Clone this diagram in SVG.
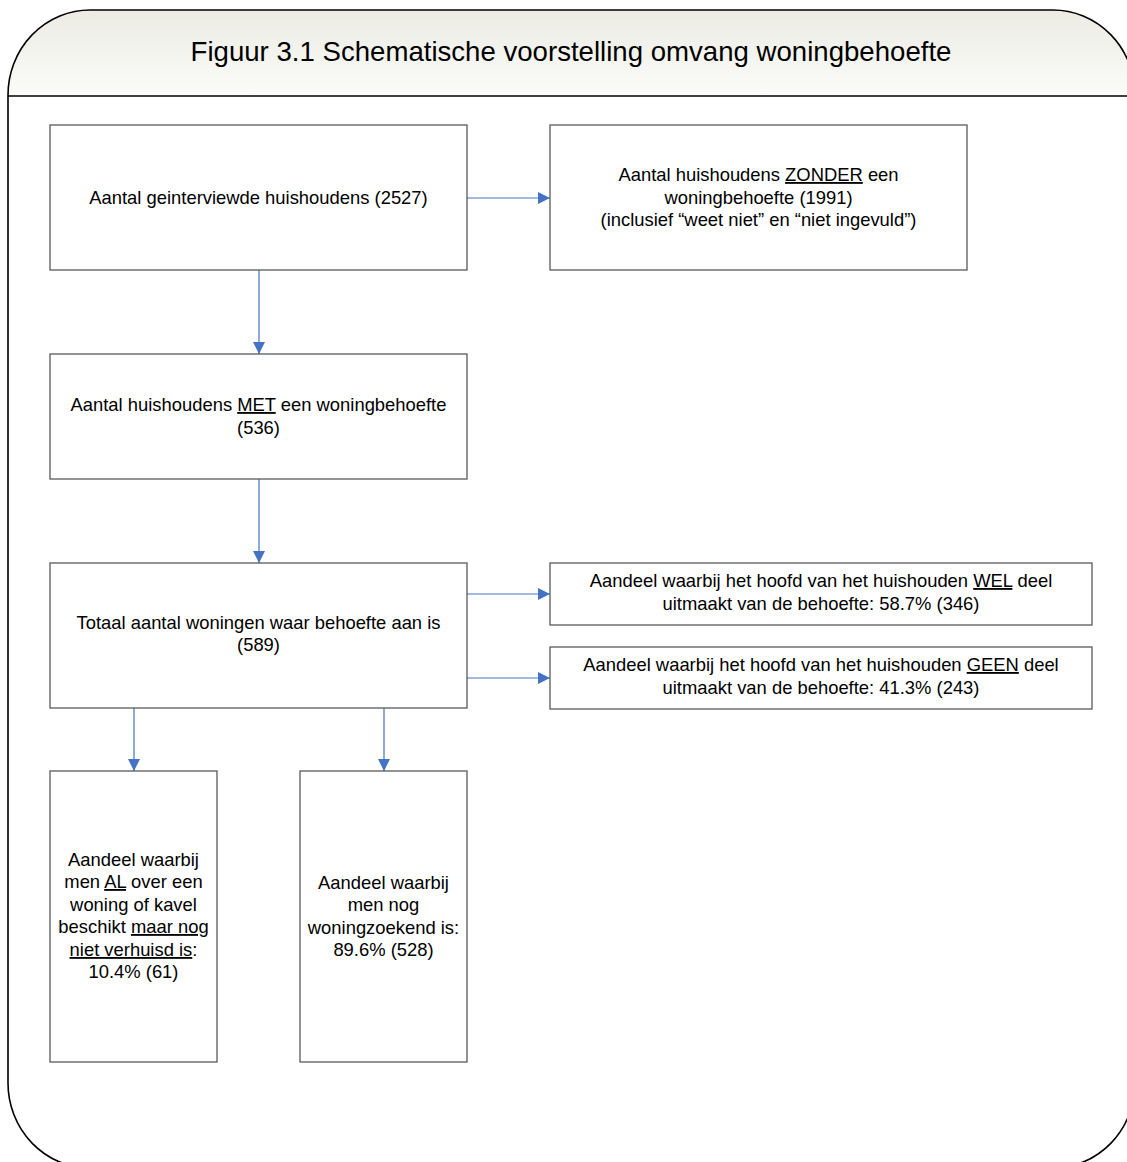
<svg xmlns="http://www.w3.org/2000/svg" width="1127" height="1162" viewBox="0 0 1127 1162">
<defs>
<linearGradient id="hdr" x1="0" y1="0" x2="0" y2="1">
<stop offset="0" stop-color="#ECECE4"/>
<stop offset="1" stop-color="#FBFBF9"/>
</linearGradient>
<marker id="ah" markerUnits="userSpaceOnUse" markerWidth="14" markerHeight="14" refX="12" refY="6" orient="auto">
<path d="M0,0 L12,6 L0,12 Z" fill="#4472C4"/>
</marker>
<style>
.box{fill:#fff;stroke:#5a5a5a;stroke-width:1.3}
.t{font-family:"Liberation Sans",Arial,sans-serif;font-size:18.4px;fill:#000;text-anchor:middle}
.title{font-family:"Liberation Sans",Arial,sans-serif;font-size:27.6px;fill:#000;text-anchor:middle}
.u{text-decoration:underline}
.c{stroke:#4472C4;stroke-width:1.2;fill:none;marker-end:url(#ah)}
</style>
</defs>
<g id="frame">
<path d="M8,96 L8,95 A82,85 0 0 1 90,10 L1053,10 A82,85 0 0 1 1135,95 L1135,96 Z" fill="url(#hdr)"/>
<path d="M8,1083 L8,95 A82,85 0 0 1 90,10 L1053,10 A82,85 0 0 1 1135,95 L1135,1083 A82,85 0 0 1 1053,1168 L90,1168 A82,85 0 0 1 8,1083 Z" fill="none" stroke="#000" stroke-width="1.6"/>
<line x1="8" y1="96" x2="1135" y2="96" stroke="#000" stroke-width="1.6"/>
<text class="title" x="571" y="61">Figuur 3.1 Schematische voorstelling omvang woningbehoefte</text>
</g>
<g id="connectors">
<line class="c" x1="467" y1="198" x2="550" y2="198"/>
<line class="c" x1="259" y1="270" x2="259" y2="354"/>
<line class="c" x1="259" y1="479" x2="259" y2="563"/>
<line class="c" x1="467" y1="594" x2="550" y2="594"/>
<line class="c" x1="467" y1="678" x2="550" y2="678"/>
<line class="c" x1="134" y1="708" x2="134" y2="771"/>
<line class="c" x1="384" y1="708" x2="384" y2="771"/>
</g>
<g id="n1">
<rect class="box" x="50" y="125" width="417" height="145"/>
<text class="t" x="258.5" y="204">Aantal geinterviewde huishoudens (2527)</text>
</g>
<g id="n2">
<rect class="box" x="550" y="125" width="417" height="145"/>
<text class="t" x="758.5" y="181">Aantal huishoudens <tspan class="u">ZONDER</tspan> een</text>
<text class="t" x="758.5" y="204">woningbehoefte (1991)</text>
<text class="t" x="758.5" y="226">(inclusief “weet niet” en “niet ingevuld”)</text>
</g>
<g id="n3">
<rect class="box" x="50" y="354" width="417" height="125"/>
<text class="t" x="258.5" y="411">Aantal huishoudens <tspan class="u">MET</tspan> een woningbehoefte</text>
<text class="t" x="258.5" y="434">(536)</text>
</g>
<g id="n4">
<rect class="box" x="50" y="563" width="417" height="145"/>
<text class="t" x="258.5" y="629">Totaal aantal woningen waar behoefte aan is</text>
<text class="t" x="258.5" y="651">(589)</text>
</g>
<g id="n5">
<rect class="box" x="550" y="563" width="542" height="62"/>
<text class="t" x="821" y="587">Aandeel waarbij het hoofd van het huishouden <tspan class="u">WEL</tspan> deel</text>
<text class="t" x="821" y="610">uitmaakt van de behoefte: 58.7% (346)</text>
</g>
<g id="n6">
<rect class="box" x="550" y="647" width="542" height="62"/>
<text class="t" x="821" y="671">Aandeel waarbij het hoofd van het huishouden <tspan class="u">GEEN</tspan> deel</text>
<text class="t" x="821" y="694">uitmaakt van de behoefte: 41.3% (243)</text>
</g>
<g id="n7">
<rect class="box" x="50" y="771" width="167" height="291"/>
<text class="t" x="133.5" y="866">Aandeel waarbij</text>
<text class="t" x="133.5" y="888">men <tspan class="u">AL</tspan> over een</text>
<text class="t" x="133.5" y="911">woning of kavel</text>
<text class="t" x="133.5" y="933">beschikt <tspan class="u">maar nog</tspan></text>
<text class="t" x="133.5" y="956"><tspan class="u">niet verhuisd is</tspan>:</text>
<text class="t" x="133.5" y="978">10.4% (61)</text>
</g>
<g id="n8">
<rect class="box" x="300" y="771" width="167" height="291"/>
<text class="t" x="383.5" y="889">Aandeel waarbij</text>
<text class="t" x="383.5" y="911">men nog</text>
<text class="t" x="383.5" y="934">woningzoekend is:</text>
<text class="t" x="383.5" y="956">89.6% (528)</text>
</g>
</svg>
